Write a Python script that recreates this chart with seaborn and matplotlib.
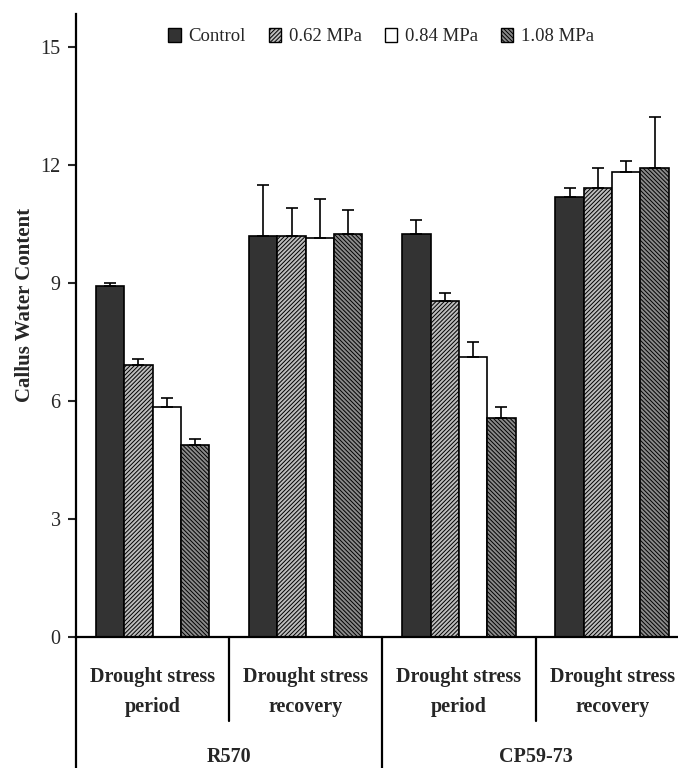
import matplotlib
matplotlib.use("Agg")
import matplotlib.pyplot as plt
import seaborn as sns
import pandas as pd
import numpy as np
from matplotlib.patches import Patch
import matplotlib.transforms as mtransforms

# ---- data ----
groups = ["R570 period", "R570 recovery", "CP59-73 period", "CP59-73 recovery"]
group_line1 = ["Drought stress", "Drought stress", "Drought stress", "Drought stress"]
group_line2 = ["period", "recovery", "period", "recovery"]
cultivars = ["R570", "CP59-73"]
treatments = ["Control", "0.62 MPa", "0.84 MPa", "1.08 MPa"]
control = [8.92, 10.20, 10.25, 11.18]
mpa062 = [6.93, 10.20, 8.55, 11.41]
mpa084 = [5.85, 10.15, 7.12, 11.82]
mpa108 = [4.88, 10.25, 5.58, 11.93]
err_control = [0.08, 1.30, 0.35, 0.25]
err_062 = [0.14, 0.70, 0.20, 0.53]
err_084 = [0.22, 1.00, 0.38, 0.28]
err_108 = [0.16, 0.60, 0.28, 1.30]
yticks = [0, 3, 6, 9, 12, 15]

values = [control, mpa062, mpa084, mpa108]
errors = [err_control, err_062, err_084, err_108]
rows = []
for t, vals, errs in zip(treatments, values, errors):
    for g, v, e in zip(groups, vals, errs):
        rows.append({"group": g, "treatment": t, "value": v, "err": e})
df = pd.DataFrame(rows)

sns.set_theme(style="white")
plt.rcParams["font.family"] = ["Liberation Serif", "DejaVu Serif"]
plt.rcParams["hatch.linewidth"] = 0.7

fig = plt.figure(figsize=(6.78, 7.68), dpi=100)
ax = fig.add_axes([0.112, 0.1706, 0.888, 0.8114])

face = ["#333333", "#bdbdbd", "#ffffff", "#8a8a8a"]
hatches = [None, "////////", None, "\\\\\\\\\\\\\\\\"]

sns.barplot(data=df, x="group", y="value", hue="treatment", order=groups,
            hue_order=treatments, palette=face, errorbar=None,
            width=0.74, gap=0, edgecolor="black", linewidth=1.2,
            saturation=1, ax=ax, legend=False)

bar_containers = list(ax.containers)
for i, cont in enumerate(bar_containers):
    t = treatments[i]
    sub = df[df.treatment == t].set_index("group").loc[groups]
    xs, ys = [], []
    for bar in cont:
        bar.set_facecolor(face[i])
        if hatches[i]:
            bar.set_hatch(hatches[i])
        xs.append(bar.get_x() + bar.get_width() / 2)
        ys.append(bar.get_height())
    ax.errorbar(xs, ys, yerr=[np.zeros(len(ys)), sub["err"].values],
                fmt="none", ecolor="black", elinewidth=1.2, capsize=4,
                capthick=1.2, zorder=3)

ax.set_ylim(0, 15.85)
ax.set_xlim(-0.5, 3.43)
ax.set_yticks(yticks)
ax.set_yticklabels([str(v) for v in yticks], fontsize=14.5)
ax.tick_params(axis="y", direction="out", length=6, width=1.5, left=True, pad=5)
ax.set_xticks([])
ax.set_xlabel("")
ax.set_ylabel("Callus Water Content", fontsize=15, fontweight="bold")
ax.yaxis.set_label_coords(-0.068, 0.533)
for s in ["top", "right"]:
    ax.spines[s].set_visible(False)
for s in ["left", "bottom"]:
    ax.spines[s].set_linewidth(1.6)
    ax.spines[s].set_color("black")

trans = mtransforms.blended_transform_factory(ax.transData, ax.transAxes)
for i in range(len(groups)):
    ax.text(i, -0.0722, group_line1[i], transform=trans, ha="center", va="baseline",
            fontsize=14.5, fontweight="bold")
    ax.text(i, -0.1204, group_line2[i], transform=trans, ha="center", va="baseline",
            fontsize=14.5, fontweight="bold")
for i, c in enumerate(cultivars):
    ax.text(0.5 + 2 * i, -0.2006, c, transform=trans, ha="center", va="baseline",
            fontsize=14.5, fontweight="bold")
# dividers
ax.plot([-0.5, -0.5], [0, -0.23], transform=trans, color="black", lw=1.6, clip_on=False)
ax.plot([1.5, 1.5], [0, -0.23], transform=trans, color="black", lw=1.6, clip_on=False)
for xx in [0.5, 2.5]:
    ax.plot([xx, xx], [0, -0.1348], transform=trans, color="black", lw=1.6, clip_on=False)

handles = [Patch(facecolor=face[i], edgecolor="black", hatch=hatches[i], label=t)
           for i, t in enumerate(treatments)]
ax.legend(handles=handles, loc="upper center", bbox_to_anchor=(0.507, 1.005),
          ncol=4, frameon=False, fontsize=13.5, handlelength=0.65, handleheight=0.8,
          handletextpad=0.4, columnspacing=1.25)

fig.savefig("out.png", dpi=100)
